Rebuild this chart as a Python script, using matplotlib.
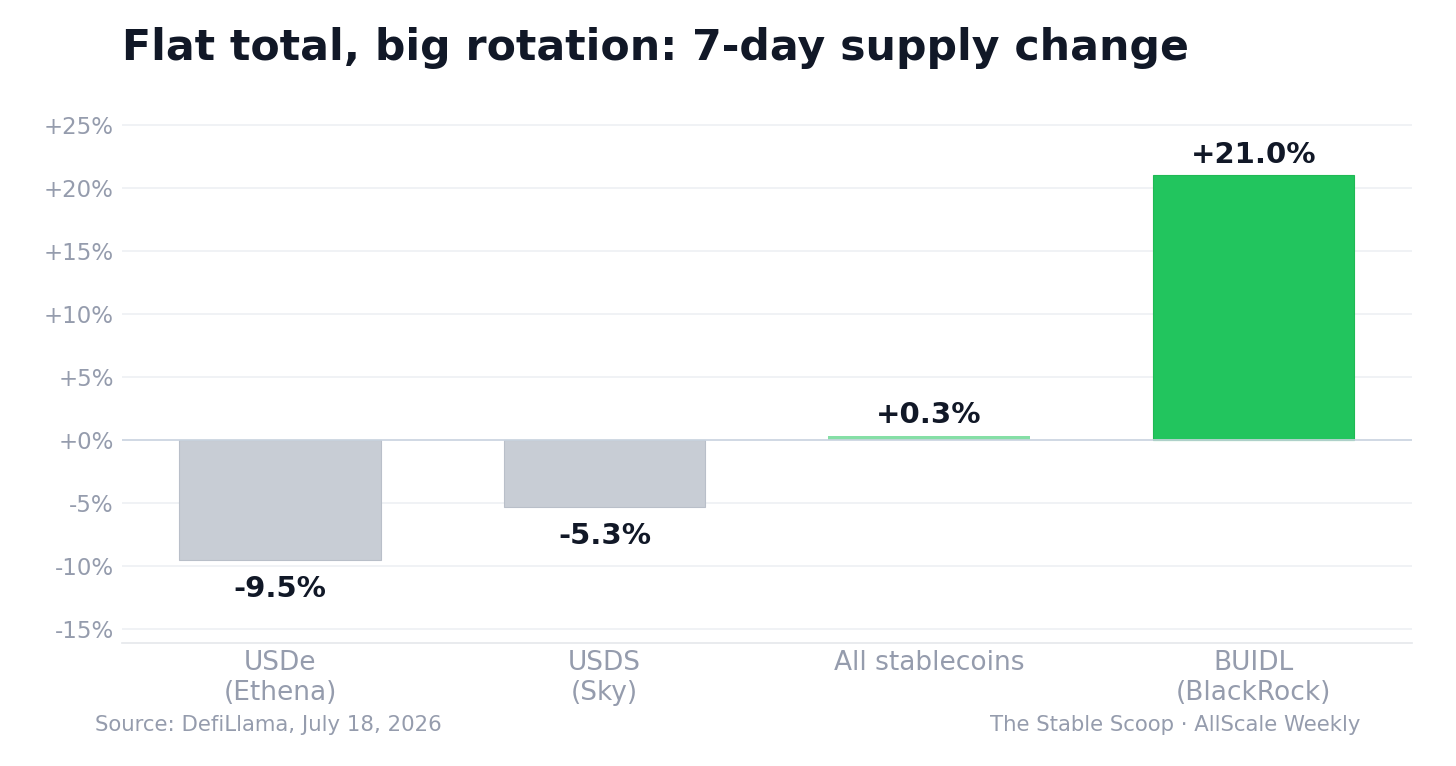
import numpy as np
import matplotlib
matplotlib.use('Agg')
import matplotlib.pyplot as plt

# Data
labels = ['USDe\n(Ethena)', 'USDS\n(Sky)', 'All stablecoins', 'BUIDL\n(BlackRock)']
changes = [-9.5, -5.3, 0.3, 21.0]
yticks = [-15, -10, -5, 0, 5, 10, 15, 20, 25]

def plotGraphs():
  fig = plt.figure(figsize=(14.56, 7.66), dpi=100)
  ax = fig.add_axes([122/1456, 1-643/766, (1412-122)/1456, (643-118)/766])

  grey = '#c8cdd5'
  green = '#22c55e'
  colors = [grey, grey, green, green]
  x = np.arange(len(changes))
  bars = ax.bar(x, changes, width=0.62, color=colors, zorder=3)
  bars[0].set_edgecolor('#b9bfc9'); bars[1].set_edgecolor('#b9bfc9')
  bars[2].set_alpha(0.55)
  bars[3].set_edgecolor('#1fb954')
  for b in bars:
    b.set_linewidth(0.8)

  # value labels
  for xi, v in zip(x, changes):
    if v >= 0:
      ax.annotate('%+.1f%%' % v, (xi, v), xytext=(0, 5), textcoords='offset points',
                  ha='center', va='bottom', fontsize=21, fontweight='bold', color='#111827')
    else:
      ax.annotate('%.1f%%' % v, (xi, v), xytext=(0, -11), textcoords='offset points',
                  ha='center', va='top', fontsize=21, fontweight='bold', color='#111827')

  ax.axhline(0, color='#cbd5e1', lw=1.2, zorder=4)
  ax.set_xlim(-0.487, 3.488)
  ax.set_ylim(-16.1, 25.56)
  ax.set_yticks(yticks)
  ax.set_yticklabels(['%+d%%' % t if t != 0 else '+0%' for t in yticks])
  ax.set_xticks(x)
  ax.set_xticklabels(labels)
  ax.grid(axis='y', color='#eef0f3', lw=1.2, zorder=0)
  for s in ['top', 'right', 'left']:
    ax.spines[s].set_visible(False)
  ax.spines['bottom'].set_color('#e5e7eb')
  ax.spines['bottom'].set_linewidth(1.2)
  ax.tick_params(axis='y', length=0, labelsize=16.5, labelcolor='#959cad', pad=6)
  ax.tick_params(axis='x', length=0, labelsize=19, labelcolor='#959cad', pad=5)

  fig.text(122/1456, 1-48/766, 'Flat total, big rotation: 7-day supply change',
           fontsize=30.7, fontweight='bold', color='#111827', ha='left', va='center')
  fig.text(95/1456, 1-725/766, 'Source: DefiLlama, July 18, 2026',
           fontsize=15.3, color='#959cad', ha='left', va='center')
  fig.text(1361/1456, 1-725/766, 'The Stable Scoop \u00b7 AllScale Weekly',
           fontsize=15.3, color='#959cad', ha='right', va='center')

  plt.savefig('out.png', dpi=100, facecolor='white')

if __name__ == "__main__":
  plotGraphs()
